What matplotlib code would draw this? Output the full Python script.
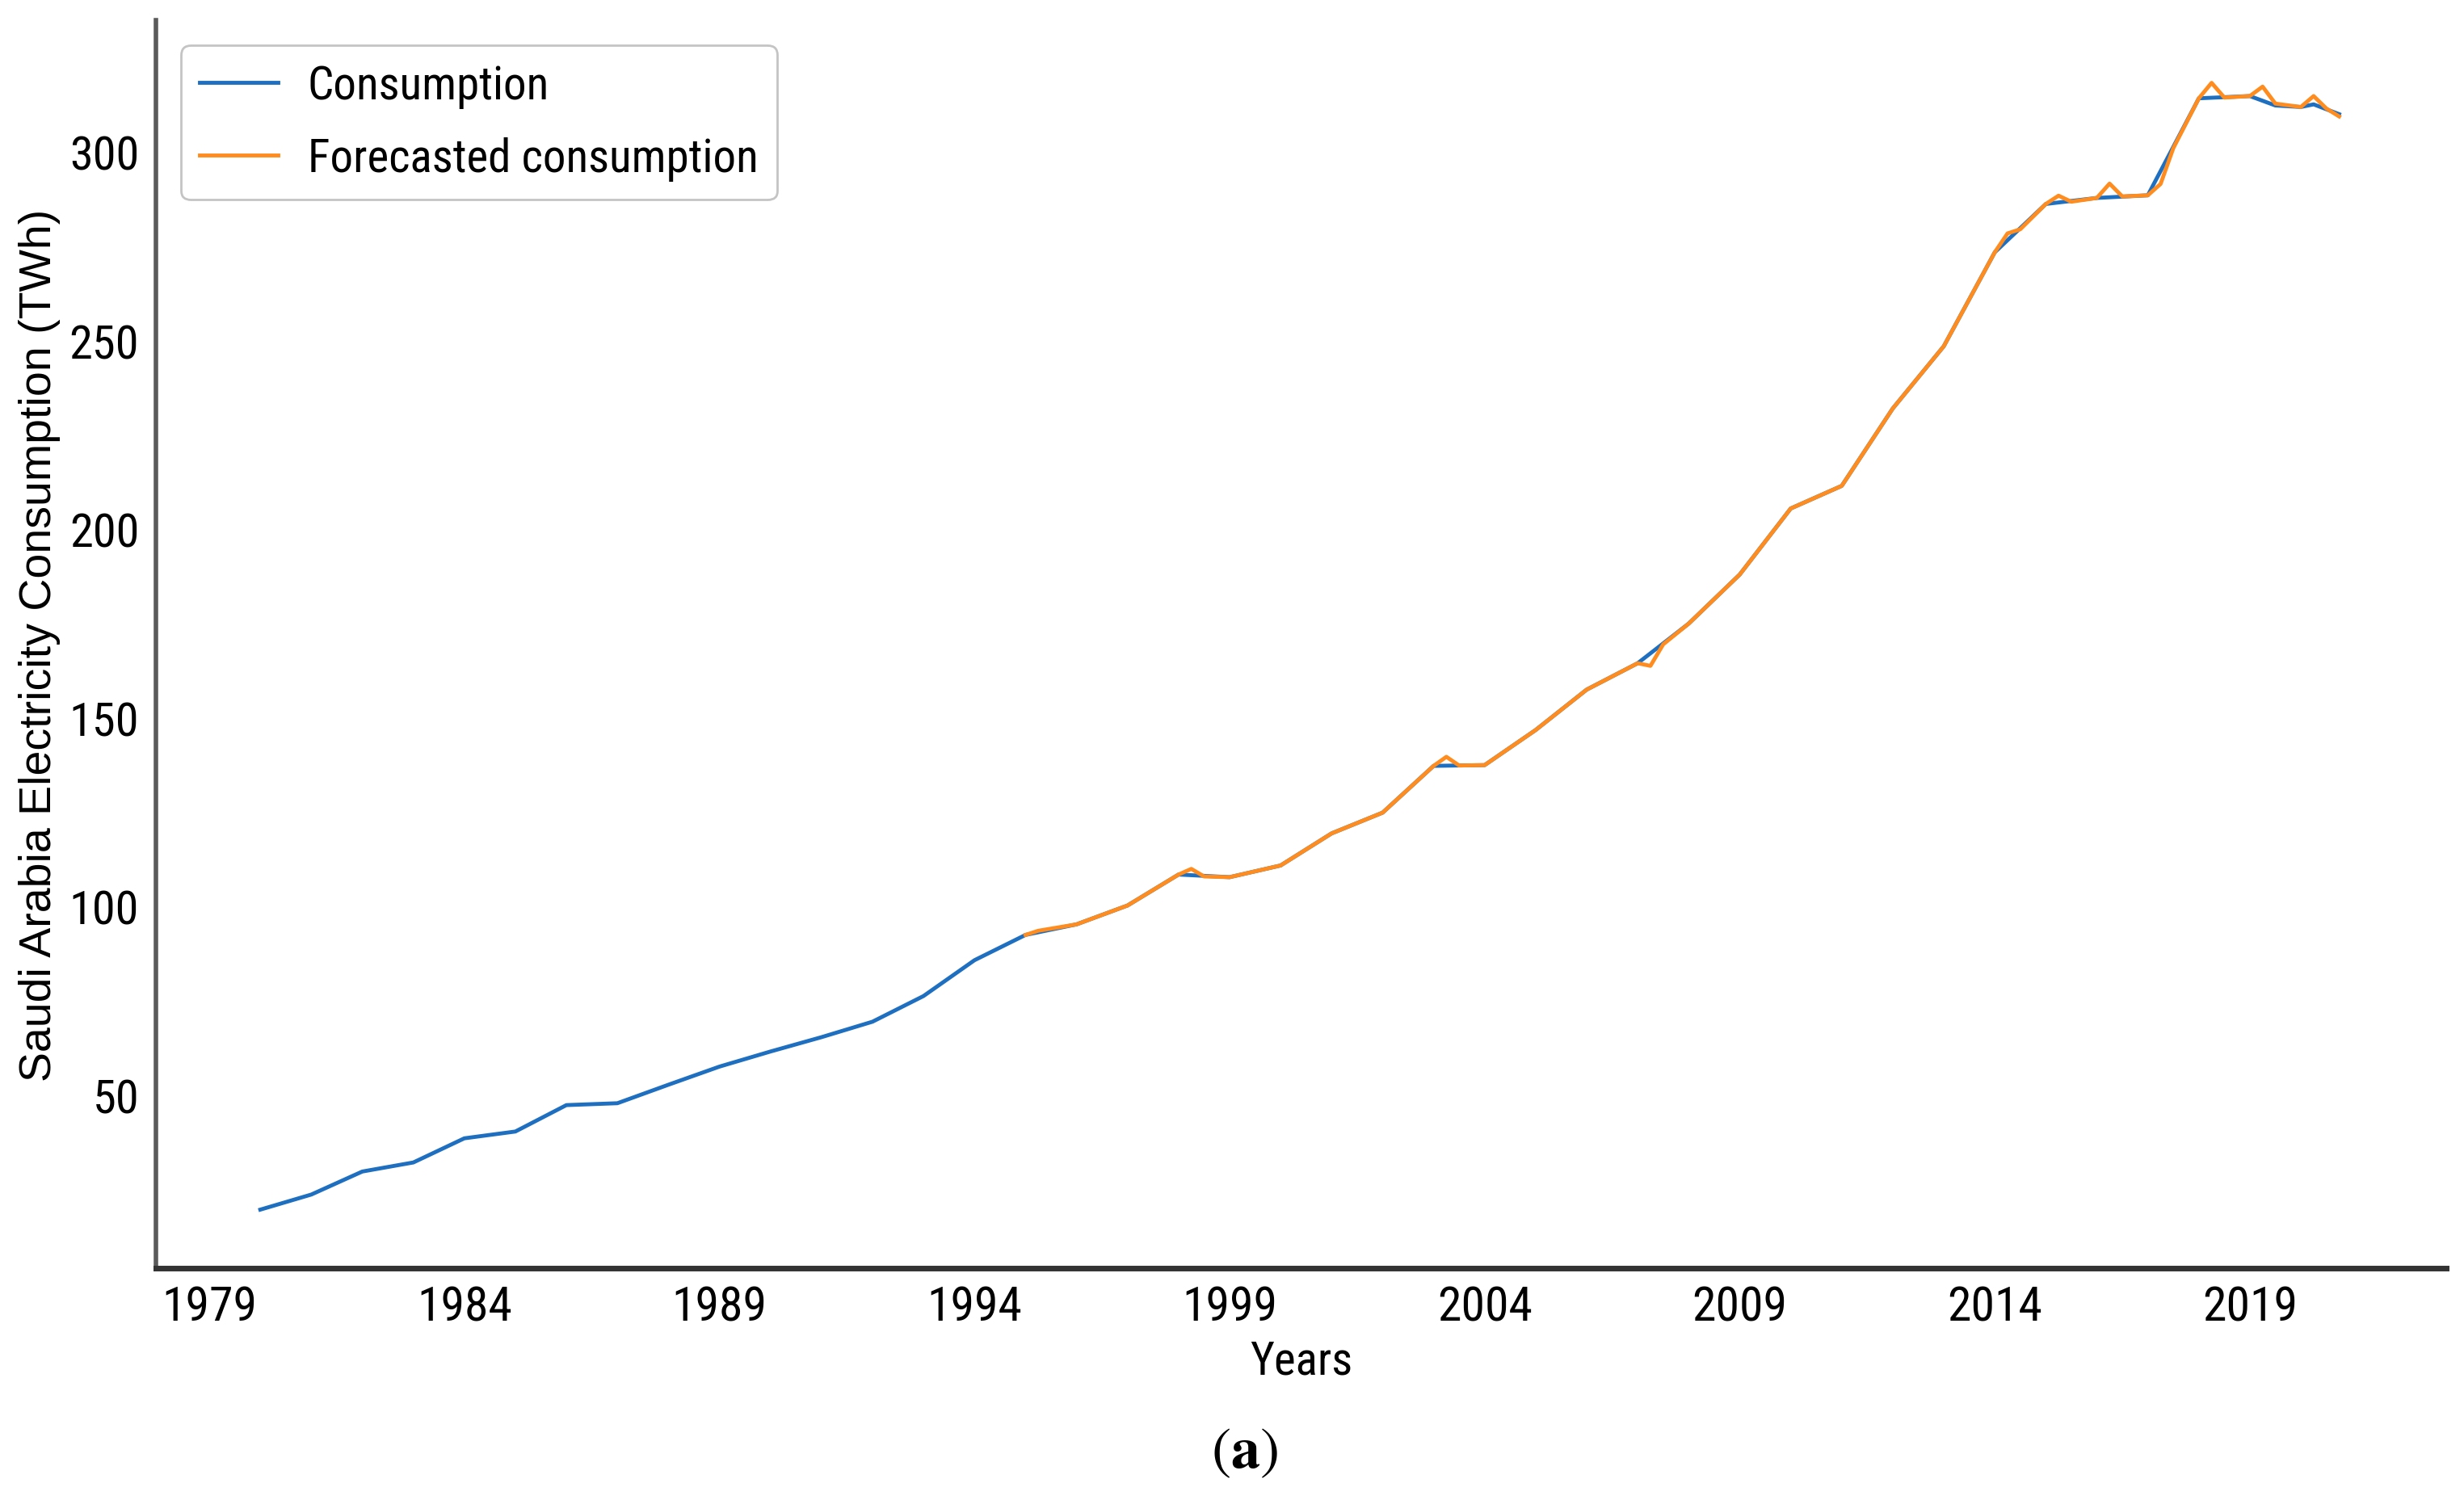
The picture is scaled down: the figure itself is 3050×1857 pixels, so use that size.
import matplotlib
matplotlib.use("Agg")
import matplotlib.pyplot as plt

# ---- data (year positions are quarter points) ----
cons_t = [1980, 1981, 1982, 1983, 1984, 1985, 1986, 1987, 1988, 1989,
          1990, 1991, 1992, 1993, 1994, 1995, 1996, 1997, 1998, 1999,
          2000, 2001, 2002, 2003, 2004, 2005, 2006, 2007, 2008, 2009,
          2010, 2011, 2012, 2013, 2014, 2015, 2016, 2017, 2018, 2019,
          2019.5, 2020, 2020.25, 2020.75]
cons_v = [19.7, 23.7, 29.8, 32.2, 38.6, 40.4, 47.4, 47.9, 52.8, 57.6,
          61.6, 65.4, 69.5, 76.3, 85.8, 92.5, 95.3, 100.3, 108.5, 107.8,
          110.9, 119.4, 124.9, 137.3, 137.5, 146.8, 157.5, 164.5, 175.0, 188.0,
          205.5, 211.5, 232.0, 248.5, 273.4, 286.2, 287.8, 288.5, 314.2, 314.8,
          312.3, 311.9, 312.6, 310.0]

fc_t = [1995, 1995.25, 1996, 1997, 1998, 1998.25, 1998.5, 1999,
        2000, 2001, 2002, 2003, 2003.25, 2003.5, 2004, 2005, 2006,
        2007, 2007.25, 2007.5, 2008, 2009, 2010, 2011, 2012, 2013,
        2014, 2014.25, 2014.5, 2015, 2015.25, 2015.5, 2016, 2016.25, 2016.5,
        2017, 2017.25, 2017.5, 2018, 2018.25, 2018.5, 2019, 2019.25, 2019.5,
        2020, 2020.25, 2020.5, 2020.75]
fc_v = [92.5, 93.6, 95.3, 100.3, 108.5, 110.0, 108.0, 107.8,
        110.9, 119.4, 124.9, 137.3, 139.7, 137.4, 137.5, 146.8, 157.5,
        164.5, 163.8, 169.5, 175.0, 188.0, 205.5, 211.5, 232.0, 248.5,
        273.4, 278.4, 279.5, 286.2, 288.4, 286.8, 287.8, 291.6, 288.2,
        288.5, 291.5, 301.0, 314.2, 318.3, 314.4, 314.8, 317.3, 312.8,
        311.9, 314.8, 311.5, 309.4]

year_ticks = [1979, 1984, 1989, 1994, 1999, 2004, 2009, 2014, 2019]
val_ticks = [50, 100, 150, 200, 250, 300]

# narrow sans for ticks / legend, regular sans for the y label
NARROW = ["Roboto Condensed", "Archivo Narrow", "Liberation Sans", "DejaVu Sans"]
REGULAR = ["Liberation Sans", "DejaVu Sans"]
plt.rcParams["font.family"] = NARROW
plt.rcParams["mathtext.fontset"] = "stix"

fig = plt.figure(figsize=(30.5, 18.58), dpi=100)
ax = fig.add_axes([0.0633, 0.1545, 0.9295, 0.8315])

ax.plot(cons_t, cons_v, color="#1f6fc0", lw=3.5, label="Consumption", zorder=2)
ax.plot(fc_t, fc_v, color="#ff8c1f", lw=3.5, label="Forecasted consumption", zorder=3)

ax.set_xlim(1977.955, 2022.85)
ax.set_ylim(4.2, 334.9)
ax.set_xticks(year_ticks)
ax.set_xticklabels([str(y) for y in year_ticks])
ax.set_yticks(val_ticks)

ax.tick_params(axis="x", length=0, pad=14, labelsize=43)
ax.tick_params(axis="y", length=0, pad=15, labelsize=42)

for s in ("top", "right"):
    ax.spines[s].set_visible(False)
ax.spines["left"].set_color("#5a5a5a")
ax.spines["left"].set_linewidth(4)
ax.spines["bottom"].set_color("#333333")
ax.spines["bottom"].set_linewidth(5)

ax.set_xlabel("Years", fontsize=41)
ax.xaxis.set_label_coords(0.5, -0.057)
ax.set_ylabel("Saudi Arabia Electricity Consumption (TWh)", fontsize=40,
              family=REGULAR)
ax.yaxis.set_label_coords(-0.0415, 0.5)

leg = ax.legend(loc="upper left", fontsize=41, frameon=True, fancybox=True,
                handlelength=1.7, handletextpad=0.65, borderaxespad=0.55,
                labelspacing=0.62)
leg.get_frame().set_edgecolor("#c4c4c4")
leg.get_frame().set_linewidth(2)
leg.get_frame().set_alpha(1)

fig.text(0.505, 0.031, r"($\mathbf{a}$)", ha="center", va="center",
         fontsize=52, family="STIXGeneral")

fig.savefig("out.png", dpi=100, facecolor="white")
